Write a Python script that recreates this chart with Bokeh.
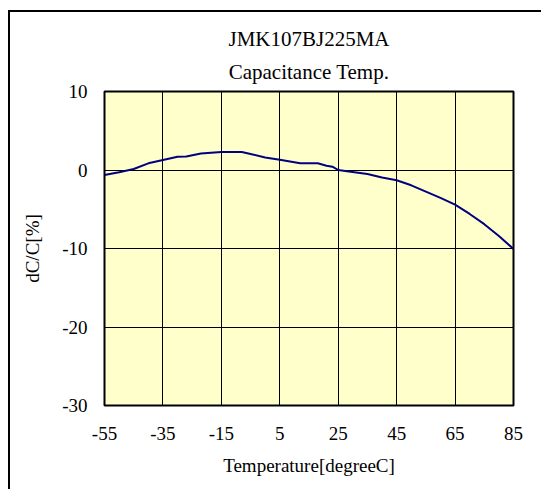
from bokeh.plotting import figure
from bokeh.models import FixedTicker, Range1d, Title
from bokeh.embed import file_html
from bokeh.resources import INLINE

title_line1 = "JMK107BJ225MA"
title_line2 = "Capacitance Temp."
x_label = "Temperature[degreeC]"
y_label = "dC/C[%]"
x_ticks = [-55, -35, -15, 5, 25, 45, 65, 85]
y_ticks = [-30, -20, -10, 0, 10]

temps = [-55, -50, -45, -40, -35, -30, -27, -22, -15, -8, -5, 0, 5, 12, 18,
         21, 23, 25, 28, 35, 40, 45, 50, 55, 60, 65, 70, 75, 80, 85]
dcc = [-0.64, -0.28, 0.13, 0.85, 1.27, 1.7, 1.72, 2.1, 2.3, 2.3, 2.05, 1.6, 1.3, 0.85, 0.85,
       0.55, 0.42, 0.0, -0.17, -0.5, -0.95, -1.3, -1.95, -2.75, -3.55, -4.42, -5.6, -6.9, -8.4, -10.06]

FONT = "Liberation Serif"

p = figure(width=541, height=489, output_backend="svg", toolbar_location=None,
           x_range=Range1d(-55, 85), y_range=Range1d(-30, 10),
           min_border_left=104, min_border_right=28, min_border_top=91, min_border_bottom=84)

p.background_fill_color = "#FFFFCC"
p.border_fill_color = None
p.outline_line_color = "black"
p.outline_line_width = 2
p.styles = {
    "background": "linear-gradient(black, black) 8px 10px / 2px 100% no-repeat, "
                  "linear-gradient(black, black) 8px 10px / 100% 2px no-repeat, white"
}

for ax in (p.xaxis, p.yaxis):
    ax.axis_line_color = None
    ax.major_tick_line_color = None
    ax.minor_tick_line_color = None
    ax.major_tick_out = 0
    ax.major_tick_in = 0
    ax.major_label_text_font = FONT
    ax.major_label_text_font_size = "19px"
    ax.major_label_text_color = "black"
    ax.axis_label_text_font = FONT
    ax.axis_label_text_font_size = "19px"
    ax.axis_label_text_font_style = "normal"
    ax.axis_label_text_color = "black"

p.xaxis.ticker = FixedTicker(ticks=x_ticks)
p.yaxis.ticker = FixedTicker(ticks=y_ticks)
p.xaxis.major_label_overrides = {t: str(t) for t in x_ticks}
p.yaxis.major_label_overrides = {t: str(t) for t in y_ticks}
p.xaxis.axis_label = x_label
p.yaxis.axis_label = y_label
p.xaxis.major_label_standoff = 21
p.yaxis.major_label_standoff = 17
p.xaxis.axis_label_standoff = 12
p.yaxis.axis_label_standoff = 16

p.grid.grid_line_color = "black"
p.grid.grid_line_width = 1
p.xgrid.ticker = FixedTicker(ticks=x_ticks)
p.ygrid.ticker = FixedTicker(ticks=y_ticks)

p.line(temps, dcc, line_color="#000080", line_width=2)

p.add_layout(Title(text=title_line2, align="center", text_font=FONT, text_font_size="21px",
                   text_font_style="normal", text_color="black", standoff=15), "above")
p.add_layout(Title(text=title_line1, align="center", text_font=FONT, text_font_size="21px",
                   text_font_style="normal", text_color="black", standoff=0), "above")

open("out.html", "w").write(file_html(p, INLINE))
